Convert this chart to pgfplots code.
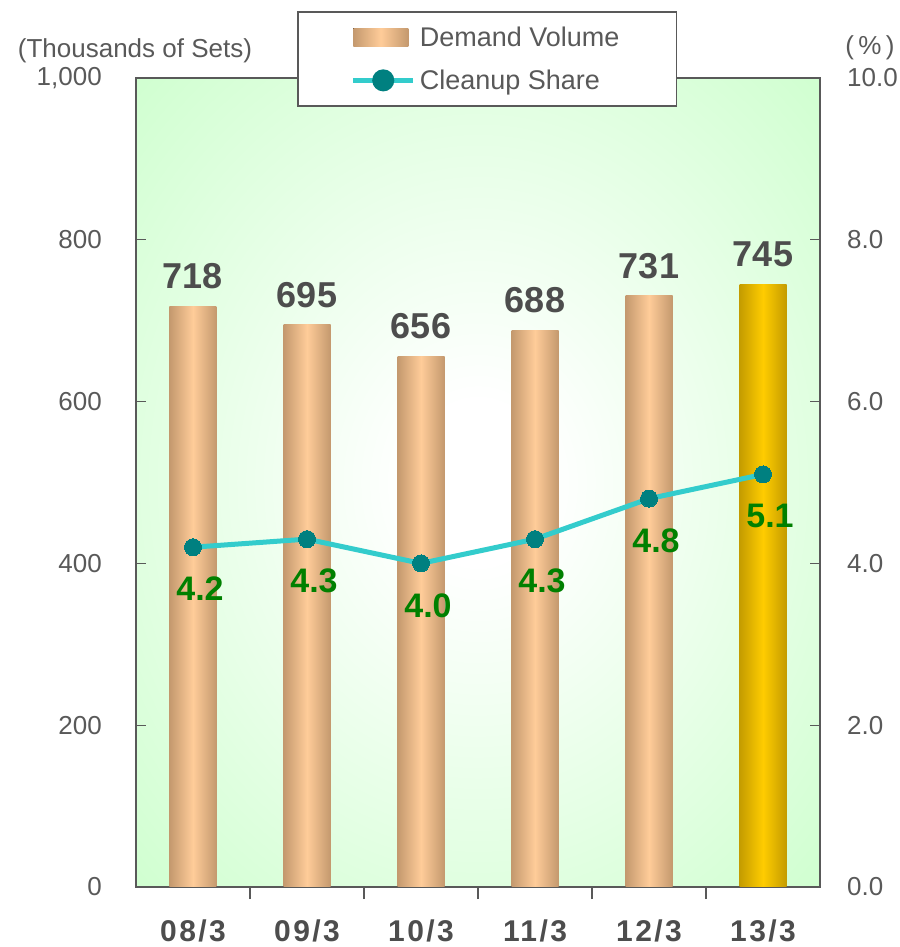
\documentclass[border=0pt]{standalone}
\usepackage{pgfplots}
\pgfplotsset{compat=1.18}
\usepackage{fontspec}
\setmainfont{Liberation Sans}
\newfontfamily\spaced[LetterSpace=8]{Liberation Sans}
\definecolor{txtgray}{HTML}{595959}
\definecolor{valgray}{HTML}{4D4D4D}
\definecolor{axisgray}{HTML}{595959}
\definecolor{barE}{HTML}{C4996E}
\definecolor{barC}{HTML}{FFCC99}
\definecolor{goldE}{HTML}{C49C00}
\definecolor{goldC}{HTML}{FFCC00}
\definecolor{linecol}{HTML}{33CCCC}
\definecolor{markcol}{HTML}{008080}
\definecolor{lblgreen}{HTML}{008000}
\definecolor{bggreen}{HTML}{CCFFCC}
\pgfdeclareradialshading{plotbg}{\pgfpoint{0bp}{0bp}}{color(0bp)=(white); color(5bp)=(white); color(38bp)=(bggreen); color(50bp)=(bggreen)}

\pgfplotstableread{
x share
0 4.2
1 4.3
2 4.0
3 4.3
4 4.8
5 5.1
}\sharetable

\begin{document}
\begin{tikzpicture}[x=1pt,y=1pt]
\useasboundingbox (-136,-60) rectangle (763,887);
\begin{axis}[
  scale only axis, width=684pt, height=809pt,
  at={(0,0)}, anchor=south west,
  xmin=-0.5, xmax=5.5, ymin=0, ymax=1000,
  axis background/.style={shading=plotbg},
  axis line style={draw=axisgray, line width=1.5pt},
  xtick={0,1,2,3,4,5},
  xticklabels={08/3,09/3,10/3,11/3,12/3,13/3},
  minor xtick={0.5,1.5,2.5,3.5,4.5},
  major x tick style={draw=none},
  minor x tick style={draw=axisgray, line width=1.2pt},
  minor tick length=12pt,
  major tick length=10pt,
  tick align=inside,
  xtick pos=bottom, ytick pos=left,
  ytick={0,200,...,1000},
  ytick style={draw=axisgray, line width=1.2pt},
  /pgf/number format/assume math mode=true,
  /pgf/number format/1000 sep={,},
  xticklabel style={font=\spaced\fontsize{30}{34}\selectfont\bfseries, text=valgray, inner sep=0pt, yshift=-23pt},
  yticklabel style={font=\fontsize{26}{30}\selectfont, text=txtgray, inner sep=0pt, xshift=-34pt},
  ybar, bar width=47pt, bar shift=0pt,
  nodes near coords,
  nodes near coords style={font=\fontsize{36}{40}\selectfont\bfseries, text=valgray, anchor=south, inner sep=0pt, yshift=17pt},
  every axis plot/.append style={draw=none},
  clip=false,
]
\addplot[left color=barE, right color=barE, middle color=barC] coordinates {(0,718)};
\addplot[left color=barE, right color=barE, middle color=barC] coordinates {(1,695)};
\addplot[left color=barE, right color=barE, middle color=barC] coordinates {(2,656)};
\addplot[left color=barE, right color=barE, middle color=barC] coordinates {(3,688)};
\addplot[left color=barE, right color=barE, middle color=barC] coordinates {(4,731)};
\addplot[left color=goldE, right color=goldE, middle color=goldC] coordinates {(5,745)};
\node[font=\fontsize{26}{30}\selectfont, text=txtgray] at (axis description cs:-0.0015,1.0334) {(Thousands of Sets)};
\node[font=\fontsize{26}{30}\selectfont, text=txtgray] at (axis description cs:1.073,1.037) {(\,\%\,)};
\end{axis}
\begin{axis}[
  scale only axis, width=684pt, height=809pt,
  at={(0,0)}, anchor=south west,
  xmin=-0.5, xmax=5.5, ymin=0, ymax=10,
  axis x line=none,
  axis y line*=right,
  axis line style={draw=axisgray, line width=1.5pt},
  ytick={0,2,...,10},
  tick align=inside,
  major tick length=10pt,
  ytick style={draw=axisgray, line width=1.2pt},
  /pgf/number format/assume math mode=true,
  yticklabel style={font=\fontsize{26}{30}\selectfont, text=txtgray, inner sep=0pt, xshift=27pt, /pgf/number format/.cd, fixed, precision=1, zerofill},
  clip=false,
  legend style={at={(0.2354,1.0828)}, anchor=north west, draw=axisgray, line width=1.5pt, fill=white,
    font=\fontsize{27}{31}\selectfont, text=txtgray, inner xsep=53pt, inner ysep=11pt,
    row sep=14pt, nodes={inner sep=4pt}},
  legend cell align=left,
]
\addlegendimage{legend image code/.code={\fill[draw=none, left color=barE, right color=barE, middle color=barC] (0pt,-9pt) rectangle (55pt,9pt);}}
\addlegendentry{Demand Volume}
\addplot[color=linecol, line width=5pt, mark=*, mark size=8.5pt, mark options={fill=markcol, draw=markcol, line width=0pt},
  nodes near coords={\pgfmathprintnumber[fixed,precision=1,zerofill]{\pgfplotspointmeta}},
  nodes near coords style={font=\fontsize{34}{38}\selectfont\bfseries, text=lblgreen, anchor=north, inner sep=0pt, yshift=-30pt, xshift=7pt},
  legend image code/.code={\draw[linecol, line width=5pt] (0pt,0pt)--(60pt,0pt); \fill[markcol] (30pt,0pt) circle (8.5pt);}
] table[x=x, y=share] {\sharetable};
\addlegendentry{Cleanup Share}
\end{axis}
\end{tikzpicture}
\end{document}
